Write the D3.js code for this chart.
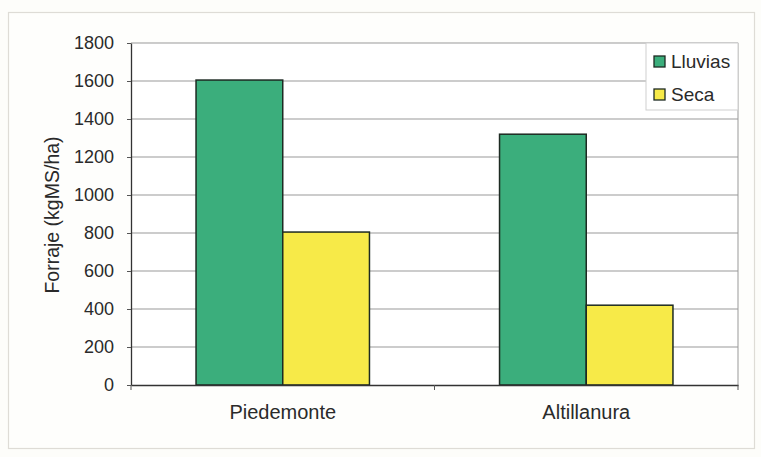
<!DOCTYPE html>
<html>
<head>
<meta charset="utf-8">
<script src="https://cdn.jsdelivr.net/npm/d3@7"></script>
<style>
  html, body { margin: 0; padding: 0; background: #fdfdfa; }
  svg { display: block; font-family: "Liberation Sans", Arial, sans-serif; }
</style>
</head>
<body>
<svg id="chart" width="761" height="457"></svg>
<script>
const categories = ["Piedemonte", "Altillanura"];
const seriesNames = ["Lluvias", "Seca"];
const lluvias = [1605, 1320];
const seca = [805, 420];
const yTicks = [0, 200, 400, 600, 800, 1000, 1200, 1400, 1600, 1800];
const colors = ["#3bae7c", "#f7ea48"];

const svg = d3.select("#chart");
const W = 761, H = 457;
const m = { left: 131, right: 23, top: 43, bottom: 72 };
const pw = W - m.left - m.right, ph = H - m.top - m.bottom;

// outer frame
svg.append("rect").attr("x", 8.5).attr("y", 12.5).attr("width", 746).attr("height", 436)
  .attr("fill", "#fefefc").attr("stroke", "#dedcd6").attr("stroke-width", 1.2);

const g = svg.append("g").attr("transform", `translate(${m.left},${m.top})`);

const x0 = d3.scaleBand().domain(categories).range([0, pw]).paddingInner(0).paddingOuter(0);
const barW = x0.bandwidth() / 3.5;
const x1 = d3.scaleBand().domain(seriesNames).range([0, barW * 2]);
const y = d3.scaleLinear().domain([0, 1800]).range([ph, 0]);

// plot area
g.append("rect").attr("width", pw).attr("height", ph).attr("fill", "#fff");

// gridlines
g.selectAll("line.grid").data(yTicks.filter(d => d > 0)).join("line")
  .attr("class", "grid")
  .attr("x1", 0).attr("x2", pw)
  .attr("y1", d => y(d)).attr("y2", d => y(d))
  .attr("stroke", "#999").attr("stroke-width", 1);

// right frame
g.append("line").attr("x1", pw).attr("x2", pw).attr("y1", 0).attr("y2", ph)
  .attr("stroke", "#999").attr("stroke-width", 1);

// bars
const rows = categories.map((c, i) => ({ cat: c, vals: [lluvias[i], seca[i]] }));
const groups = g.selectAll("g.cat").data(rows).join("g")
  .attr("transform", d => `translate(${x0(d.cat) + (x0.bandwidth() - barW * 2) / 2},0)`);
groups.selectAll("rect").data(d => d.vals.map((v, j) => ({ s: seriesNames[j], v, j }))).join("rect")
  .attr("x", d => x1(d.s)).attr("width", x1.bandwidth())
  .attr("y", d => y(d.v)).attr("height", d => ph - y(d.v))
  .attr("fill", d => colors[d.j])
  .attr("stroke", "#1d2a22").attr("stroke-width", 1.5);

// y axis
const yAxis = g.append("g").call(d3.axisLeft(y).tickValues(yTicks).tickFormat(d3.format("d"))
  .tickSize(4).tickPadding(13).tickSizeOuter(0));
yAxis.select(".domain").attr("stroke", "#333").attr("stroke-width", 1.3);
yAxis.selectAll(".tick line").attr("stroke", "#555");
yAxis.selectAll(".tick text").attr("font-size", 18).attr("fill", "#2a2a2a").attr("font-family", "Liberation Sans, Arial, sans-serif");

// x axis
const xAxis = g.append("g").attr("transform", `translate(0,${ph})`)
  .call(d3.axisBottom(x0).tickSize(0).tickPadding(20));
xAxis.select(".domain").attr("stroke", "#333").attr("stroke-width", 1.3);
xAxis.selectAll(".tick text").attr("font-size", 20).attr("fill", "#2a2a2a").attr("font-family", "Liberation Sans, Arial, sans-serif");
// category boundary ticks
g.selectAll("line.xt").data([0, 1, 2]).join("line").attr("class", "xt")
  .attr("x1", d => d * x0.bandwidth()).attr("x2", d => d * x0.bandwidth())
  .attr("y1", ph).attr("y2", ph + 5).attr("stroke", "#555");

// y label
svg.append("text")
  .attr("transform", `translate(59,${m.top + ph / 2 + 1}) rotate(-90)`)
  .attr("text-anchor", "middle").attr("font-size", 19.5).attr("fill", "#2a2a2a")
  .text("Forraje (kgMS/ha)");

// legend
const lg = svg.append("g").attr("transform", "translate(646,43)");
lg.append("rect").attr("width", 92).attr("height", 67).attr("fill", "#fff")
  .attr("stroke", "#cfcfcf").attr("stroke-width", 1);
seriesNames.forEach((s, i) => {
  lg.append("rect").attr("x", 8).attr("y", 13 + i * 33).attr("width", 11).attr("height", 11)
    .attr("fill", colors[i]).attr("stroke", "#1d2a22").attr("stroke-width", 1.3);
  lg.append("text").attr("x", 25).attr("y", 24.5 + i * 33).attr("font-size", 19)
    .attr("fill", "#2a2a2a").text(s);
});
</script>
</body>
</html>
